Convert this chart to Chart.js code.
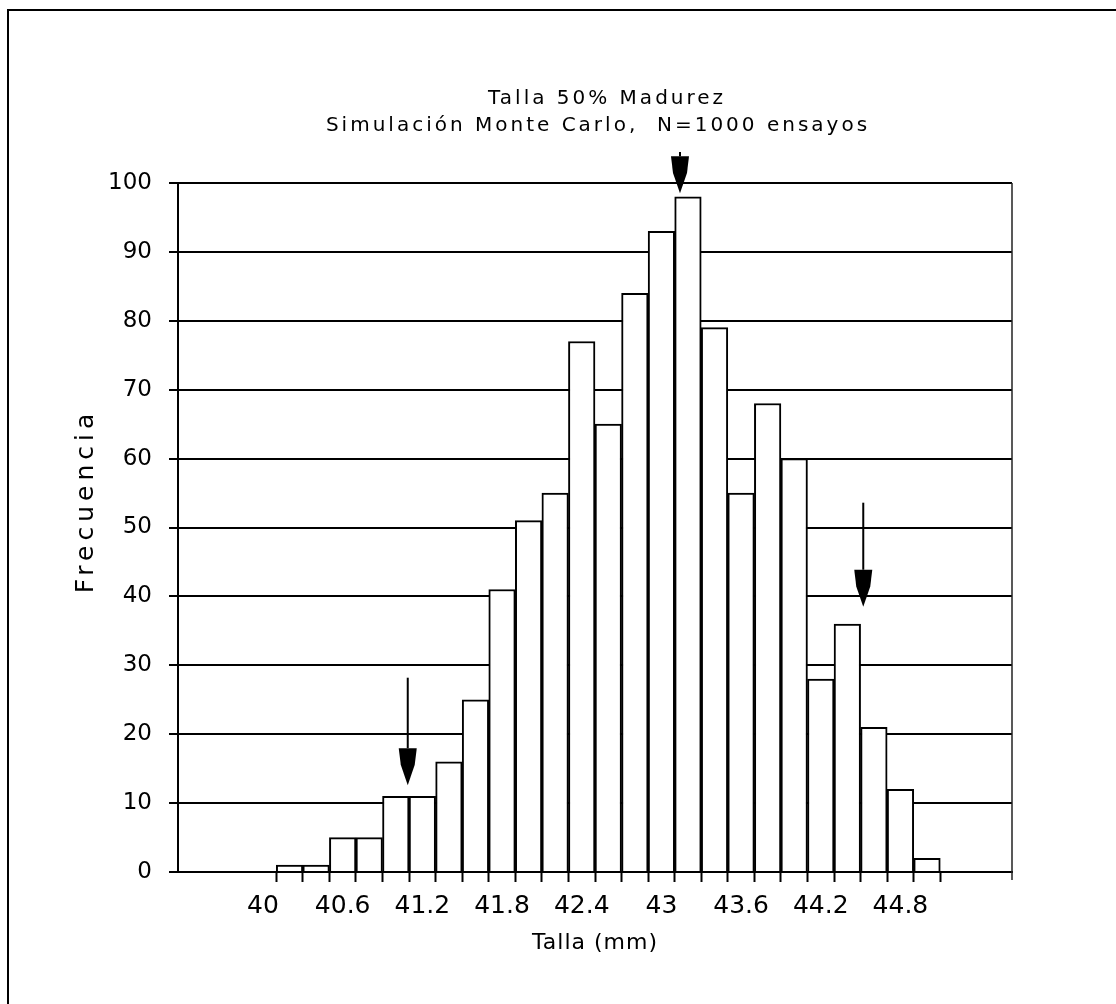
<!DOCTYPE html>
<html>
<head>
<meta charset="utf-8">
<script src="https://cdn.jsdelivr.net/npm/chart.js@4/dist/chart.umd.min.js"></script>
<style>
  html, body { margin: 0; padding: 0; background: #fff; }
  #caja { position: relative; width: 1116px; height: 1004px; }
</style>
</head>
<body>
<div id="caja"><canvas id="histograma" width="1116" height="1004"></canvas></div>
<script>
// centro de cada intervalo de talla (mm), ancho 0.2
const clases = [40.2, 40.4, 40.6, 40.8, 41.0, 41.2, 41.4, 41.6, 41.8, 42.0, 42.2, 42.4, 42.6,
                42.8, 43.0, 43.2, 43.4, 43.6, 43.8, 44.0, 44.2, 44.4, 44.6, 44.8, 45.0];
const frecuencias = [1, 1, 5, 5, 11, 11, 16, 25, 41, 51, 55, 77, 65,
                     84, 93, 98, 79, 55, 68, 60, 28, 36, 21, 12, 2];
const etiquetasX = [40, 40.6, 41.2, 41.8, 42.4, 43, 43.6, 44.2, 44.8];
const etiquetasY = [0, 10, 20, 30, 40, 50, 60, 70, 80, 90, 100];

// flechas: talla, frecuencia donde empieza y donde llega la punta
const flechaX = [41.09, 43.14, 44.52];
const flechaDesde = [28.2, 104.5, 53.6];
const flechaHasta = [12.6, 98.5, 38.5];

const titulo = ['Talla 50% Madurez', 'Simulación Monte Carlo,  N=1000 ensayos'];
const tituloX = 'Talla (mm)';
const tituloY = 'Frecuencia';

const ancho = 0.2;
const bordes = clases.map(c => +(c - ancho / 2).toFixed(2));
bordes.push(+(clases[clases.length - 1] + ancho / 2).toFixed(2));
const esEtiqueta = v => etiquetasX.some(e => Math.abs(e - v) < 1e-6);
const marcasX = etiquetasX.concat(bordes).sort((a, b) => a - b);

const fuente = '"DejaVu Sans", sans-serif';

const textos = {
    id: 'textos',
    beforeDraw(chart) {
        const ctx = chart.ctx;
        ctx.save();
        ctx.strokeStyle = '#000';
        ctx.lineWidth = 2;
        ctx.beginPath();
        ctx.moveTo(8, 1004);
        ctx.lineTo(8, 10);
        ctx.lineTo(1116, 10);
        ctx.stroke();
        ctx.restore();
    },
    afterDraw(chart) {
        const ctx = chart.ctx;
        const a = chart.chartArea;
        ctx.save();
        ctx.fillStyle = '#000';
        ctx.textAlign = 'center';
        ctx.textBaseline = 'alphabetic';

        ctx.font = '20px ' + fuente;
        ctx.letterSpacing = '3px';
        ctx.fillText(titulo[0], 607, 104);
        ctx.fillText(titulo[1], 598, 131);

        ctx.font = '22px ' + fuente;
        ctx.letterSpacing = '1px';
        ctx.fillText(tituloX, (a.left + a.right) / 2, 949);

        ctx.font = '25px ' + fuente;
        ctx.letterSpacing = '5px';
        ctx.translate(93, 501);
        ctx.rotate(-Math.PI / 2);
        ctx.fillText(tituloY, 0, 0);
        ctx.restore();

        // borde derecho del area
        ctx.save();
        ctx.strokeStyle = '#222';
        ctx.lineWidth = 1.5;
        ctx.beginPath();
        ctx.moveTo(a.right, a.top);
        ctx.lineTo(a.right, a.bottom + 8);
        ctx.stroke();
        ctx.restore();
    }
};

const flechas = {
    id: 'flechas',
    afterDatasetsDraw(chart) {
        const ctx = chart.ctx;
        const x = chart.scales.x, y = chart.scales.y;
        ctx.save();
        ctx.fillStyle = '#000';
        ctx.strokeStyle = '#000';
        ctx.lineWidth = 2;
        flechaX.forEach((v, i) => {
            const px = x.getPixelForValue(v);
            const y0 = y.getPixelForValue(flechaDesde[i]);
            const y1 = y.getPixelForValue(flechaHasta[i]);
            const cab = Math.min(37, y1 - y0 - 4);
            ctx.beginPath();
            ctx.moveTo(px, y0);
            ctx.lineTo(px, y1 - cab);
            ctx.stroke();
            ctx.beginPath();
            ctx.moveTo(px - 9, y1 - cab);
            ctx.lineTo(px + 9, y1 - cab);
            ctx.lineTo(px + 7, y1 - cab * 0.55);
            ctx.lineTo(px, y1);
            ctx.lineTo(px - 7, y1 - cab * 0.55);
            ctx.closePath();
            ctx.fill();
        });
        ctx.restore();
    }
};

new Chart(document.getElementById('histograma'), {
    type: 'bar',
    data: {
        datasets: [{
            data: clases.map((c, i) => ({ x: c, y: frecuencias[i] })),
            backgroundColor: '#fff',
            borderColor: '#000',
            borderWidth: 2,
            barThickness: 'flex',
            barPercentage: 1,
            categoryPercentage: 1
        }]
    },
    options: {
        responsive: false,
        animation: false,
        events: [],
        layout: { padding: { top: 183, right: 104, bottom: 0, left: 0 } },
        plugins: { legend: { display: false }, tooltip: { enabled: false }, title: { display: false } },
        scales: {
            x: {
                type: 'linear',
                min: 39.36,
                max: 45.64,
                offset: false,
                afterFit(s) { s.height = 132; },
                afterBuildTicks(s) { s.ticks = marcasX.map(v => ({ value: v })); },
                grid: {
                    offset: false,
                    drawOnChartArea: false,
                    tickLength: 10,
                    tickWidth: 2,
                    tickColor: c => (c.tick && !esEtiqueta(c.tick.value)) ? '#000' : 'rgba(0,0,0,0)'
                },
                border: { display: true, color: '#000', width: 2 },
                ticks: {
                    autoSkip: false,
                    maxRotation: 0,
                    padding: 9,
                    color: '#000',
                    font: { family: fuente, size: 25 },
                    callback: v => esEtiqueta(v) ? String(v) : ''
                }
            },
            y: {
                min: 0,
                max: 100,
                afterFit(s) { s.width = 178; },
                afterBuildTicks(s) { s.ticks = etiquetasY.map(v => ({ value: v })); },
                grid: { color: '#000', lineWidth: 2, tickLength: 9, tickColor: '#000' },
                border: { display: true, color: '#000', width: 2 },
                ticks: {
                    padding: 17,
                    color: '#000',
                    font: { family: fuente, size: 23 }
                }
            }
        }
    },
    plugins: [textos, flechas]
});
</script>
</body>
</html>
